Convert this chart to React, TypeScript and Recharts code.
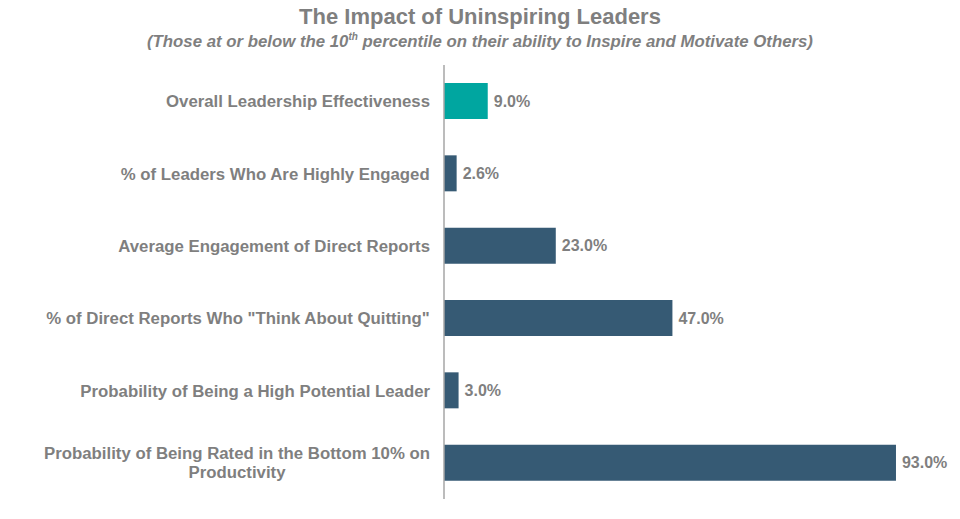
import { Bar, BarChart, Cell, LabelList, XAxis, YAxis } from "recharts";

const categories = [
  "Overall Leadership Effectiveness",
  "% of Leaders Who Are Highly Engaged",
  "Average Engagement of Direct Reports",
  '% of Direct Reports Who "Think About Quitting"',
  "Probability of Being a High Potential Leader",
  "Probability of Being Rated in the Bottom 10% on\nProductivity",
];
const values = [9.0, 2.6, 23.0, 47.0, 3.0, 93.0];
const highlighted = categories[0];

const data = categories.map((name, i) => ({ name, value: values[i] }));

const GREY = "#7f7f7f";
const FONT = "'Liberation Sans', Arial, sans-serif";
const LABEL_SIZE = 16.8;

let ctx: CanvasRenderingContext2D | null = null;
function measure(text: string) {
  if (!ctx) ctx = document.createElement("canvas").getContext("2d");
  if (!ctx) return text.length * 9;
  ctx.font = `bold ${LABEL_SIZE}px ${FONT}`;
  return ctx.measureText(text).width;
}

function CategoryTick(props: any) {
  const { x, y, payload } = props;
  const lines: string[] = String(payload.value).split("\n");
  const boxW = Math.max(...lines.map(measure));
  const center = x - 6 - boxW / 2;
  const lineH = 19;
  const top = y - ((lines.length - 1) * lineH) / 2;
  return (
    <text
      fill={GREY}
      fontFamily={FONT}
      fontWeight="bold"
      fontSize={LABEL_SIZE}
      textAnchor="middle"
      dominantBaseline="central"
    >
      {lines.map((l, i) => (
        <tspan key={i} x={center} y={top + i * lineH}>
          {l}
        </tspan>
      ))}
    </text>
  );
}

export default function App() {
  return (
    <div style={{ position: "relative", margin: -8, width: 960, height: 519, background: "#fff" }}>
      <div
        style={{
          position: "absolute",
          top: 4,
          width: 960,
          textAlign: "center",
          fontFamily: FONT,
          color: GREY,
          fontWeight: "bold",
          fontSize: 22,
          lineHeight: "26px",
        }}
      >
        The Impact of Uninspiring Leaders
      </div>
      <div
        style={{
          position: "absolute",
          top: 31,
          width: 960,
          textAlign: "center",
          fontFamily: FONT,
          color: GREY,
          fontWeight: "bold",
          fontStyle: "italic",
          fontSize: 16.8,
          lineHeight: "22px",
        }}
      >
        (Those at or below the 10<sup style={{ fontSize: 10, lineHeight: 0 }}>th</sup> percentile on their ability to
        Inspire and Motivate Others)
      </div>
      <BarChart
        width={960}
        height={519}
        data={data}
        layout="vertical"
        margin={{ top: 65, right: 30, bottom: 20, left: 0 }}
      >
        <XAxis type="number" domain={[0, 100]} hide />
        <YAxis
          type="category"
          dataKey="name"
          width={444}
          axisLine={{ stroke: "#a6a6a6", strokeWidth: 1.5 }}
          tickLine={false}
          tick={<CategoryTick />}
          interval={0}
        />
        <Bar dataKey="value" barSize={36} fill="#365a74" isAnimationActive={false}>
          {data.map((d) => (
            <Cell key={d.name} fill={d.name === highlighted ? "#00a6a0" : "#365a74"} />
          ))}
          <LabelList
            dataKey="value"
            position="right"
            offset={6}
            formatter={(v: any) => `${Number(v).toFixed(1)}%`}
            fill={GREY}
            fontFamily={FONT}
            fontWeight="bold"
            fontSize={16}
          />
        </Bar>
      </BarChart>
    </div>
  );
}
